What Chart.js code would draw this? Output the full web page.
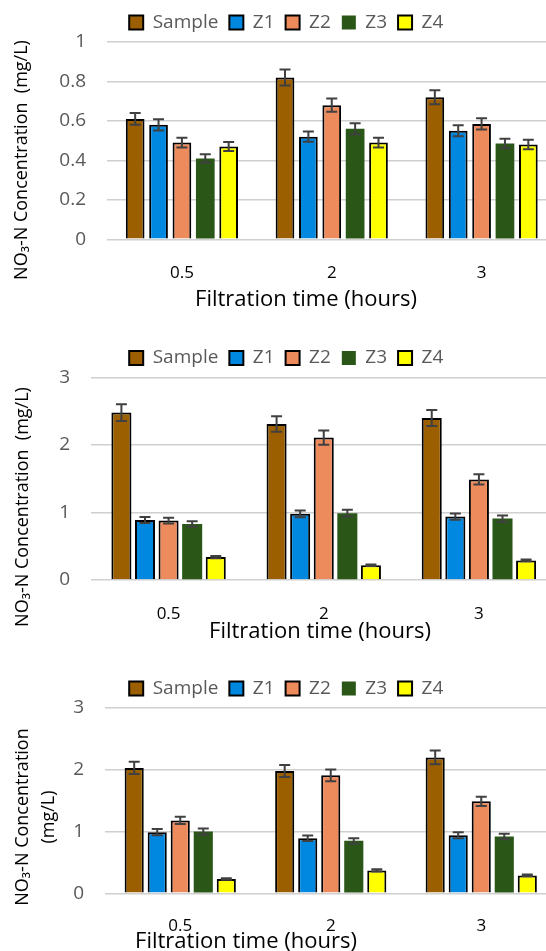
<!DOCTYPE html>
<html>
<head>
<meta charset="utf-8">
<script src="https://cdn.jsdelivr.net/npm/chart.js@4.4.1/dist/chart.umd.min.js"></script>
<style>
  html, body { margin: 0; padding: 0; background: #fff; }
  body { width: 546px; height: 951px; overflow: hidden; }
  canvas { display: block; }
</style>
</head>
<body>
<canvas id="chart1" width="572" height="318"></canvas>
<canvas id="chart2" width="572" height="330"></canvas>
<canvas id="chart3" width="572" height="303"></canvas>
<script>
const hours = ['0.5', '2', '3'];
const seriesNames = ['Sample', 'Z1', 'Z2', 'Z3', 'Z4'];
const seriesColors = ['#9c5f00', '#0088e0', '#ee8b5c', '#2a5617', '#ffff00'];
const seriesBorders = ['#000', '#000', '#000', '#2a5617', '#000'];

// panel 1 (0 - 1 mg/L)
const p1Sample = [0.61, 0.82, 0.72];
const p1Z1 = [0.58, 0.52, 0.55];
const p1Z2 = [0.49, 0.68, 0.585];
const p1Z3 = [0.41, 0.56, 0.485];
const p1Z4 = [0.47, 0.49, 0.48];
const p1SampleErr = [0.03, 0.041, 0.036];
const p1Z1Err = [0.029, 0.026, 0.028];
const p1Z2Err = [0.025, 0.034, 0.029];
const p1Z3Err = [0.021, 0.028, 0.024];
const p1Z4Err = [0.023, 0.025, 0.024];

// panel 2 (0 - 3 mg/L)
const p2Sample = [2.48, 2.31, 2.40];
const p2Z1 = [0.89, 0.98, 0.94];
const p2Z2 = [0.88, 2.11, 1.49];
const p2Z3 = [0.83, 0.99, 0.91];
const p2Z4 = [0.34, 0.22, 0.29];
const p2SampleErr = [0.124, 0.115, 0.12];
const p2Z1Err = [0.045, 0.049, 0.047];
const p2Z2Err = [0.044, 0.105, 0.075];
const p2Z3Err = [0.042, 0.05, 0.046];
const p2Z4Err = [0.017, 0.011, 0.014];

// panel 3 (0 - 3 mg/L)
const p3Sample = [2.03, 1.98, 2.20];
const p3Z1 = [0.99, 0.89, 0.94];
const p3Z2 = [1.18, 1.91, 1.49];
const p3Z3 = [1.0, 0.85, 0.92];
const p3Z4 = [0.23, 0.37, 0.29];
const p3SampleErr = [0.1, 0.099, 0.11];
const p3Z1Err = [0.05, 0.045, 0.047];
const p3Z2Err = [0.059, 0.096, 0.075];
const p3Z3Err = [0.05, 0.042, 0.046];
const p3Z4Err = [0.012, 0.018, 0.015];

const xTitle = 'Filtration time (hours)';
const yTitle = 'NO\u2083-N Concentration  (mg/L)';
const yTitleLines = ['NO\u2083-N Concentration', '(mg/L)'];

const FONT = '"Open Sans", "DejaVu Sans", sans-serif';

const errorBars = {
  id: 'errorBars',
  afterDatasetsDraw(chart, args, opts) {
    const ctx = chart.ctx;
    const y = chart.scales.y;
    ctx.save();
    ctx.strokeStyle = opts.color;
    ctx.lineWidth = opts.width;
    chart.data.datasets.forEach((ds, i) => {
      chart.getDatasetMeta(i).data.forEach((bar, j) => {
        const v = ds.data[j], e = ds.errors[j];
        const top = y.getPixelForValue(v + e);
        const bot = y.getPixelForValue(v - e);
        ctx.beginPath();
        ctx.moveTo(bar.x, top); ctx.lineTo(bar.x, bot);
        ctx.moveTo(bar.x - opts.cap, top); ctx.lineTo(bar.x + opts.cap, top);
        ctx.moveTo(bar.x - opts.cap, bot); ctx.lineTo(bar.x + opts.cap, bot);
        ctx.stroke();
      });
    });
    ctx.restore();
  }
};

// axis titles are placed like the original figure, not centred on the plot area
const axisTitles = {
  id: 'axisTitles',
  afterDraw(chart, args, opts) {
    const ctx = chart.ctx;
    ctx.save();
    ctx.fillStyle = '#000';
    ctx.textAlign = 'center';
    ctx.textBaseline = 'alphabetic';
    ctx.font = '22px ' + FONT;
    ctx.fillText(opts.x.text, opts.x.cx, opts.x.baseline);
    ctx.font = '18px ' + FONT;
    opts.y.lines.forEach((line, k) => {
      ctx.save();
      ctx.translate(opts.y.baselines[k], opts.y.cy);
      ctx.rotate(-Math.PI / 2);
      ctx.fillText(line, 0, 0);
      ctx.restore();
    });
    ctx.restore();
  }
};

function makeChart(id, values, errors, yMax, yStep, cfg) {
  return new Chart(document.getElementById(id), {
    type: 'bar',
    data: {
      labels: hours,
      datasets: seriesNames.map((name, i) => ({
        label: name,
        data: values[i],
        errors: errors[i],
        backgroundColor: seriesColors[i],
        borderColor: seriesBorders[i],
        borderWidth: i === 3 ? 0 : 2,
        categoryPercentage: cfg.catPct,
        barPercentage: cfg.barPct
      }))
    },
    options: {
      responsive: false,
      animation: false,
      layout: { padding: { top: cfg.padTop, left: 16, right: 15.5, bottom: 0 } },
      plugins: {
        legend: {
          position: 'top',
          labels: { boxWidth: 14, boxHeight: 14, padding: 11, color: '#595959', font: { family: FONT, size: 19 } }
        },
        tooltip: { enabled: false },
        errorBars: { color: '#404040', width: 2, cap: 5.5 },
        axisTitles: cfg.titles
      },
      scales: {
        x: {
          grid: { display: false },
          border: { display: false },
          ticks: { color: '#000', padding: cfg.xPad, font: { family: FONT, size: 17 } },
          afterFit: s => { s.height = cfg.xHeight; }
        },
        y: {
          min: 0, max: yMax,
          grid: { color: '#d0d0d0', lineWidth: 1.5, drawTicks: false },
          border: { display: false },
          ticks: {
            stepSize: yStep, color: '#595959', padding: 21, font: { family: FONT, size: 19 },
            callback: v => String(Number(v.toFixed(2)))
          },
          afterFit: s => { s.width = cfg.yWidth; }
        }
      }
    },
    plugins: [errorBars, axisTitles]
  });
}

makeChart('chart1',
  [p1Sample, p1Z1, p1Z2, p1Z3, p1Z4],
  [p1SampleErr, p1Z1Err, p1Z2Err, p1Z3Err, p1Z4Err],
  1, 0.2,
  { padTop: 2, yWidth: 91, xHeight: 78.7, xPad: 16, catPct: 0.78, barPct: 0.8,
    titles: { x: { text: xTitle, cx: 306, baseline: 306 }, y: { lines: [yTitle], baselines: [27], cy: 160 } } });

makeChart('chart2',
  [p2Sample, p2Z1, p2Z2, p2Z3, p2Z4],
  [p2SampleErr, p2Z1Err, p2Z2Err, p2Z3Err, p2Z4Err],
  3, 1,
  { padTop: 19.5, yWidth: 75, xHeight: 68, xPad: 16, catPct: 0.76, barPct: 0.85,
    titles: { x: { text: xTitle, cx: 320, baseline: 320 }, y: { lines: [yTitle], baselines: [28], cy: 189 } } });

makeChart('chart3',
  [p3Sample, p3Z1, p3Z2, p3Z3, p3Z4],
  [p3SampleErr, p3Z1Err, p3Z2Err, p3Z3Err, p3Z4Err],
  3, 1,
  { padTop: 20, yWidth: 89, xHeight: 57.7, xPad: 15, catPct: 0.765, barPct: 0.83,
    titles: { x: { text: xTitle, cx: 246, baseline: 300 }, y: { lines: yTitleLines, baselines: [28, 54], cy: 169 } } });
</script>
</body>
</html>
